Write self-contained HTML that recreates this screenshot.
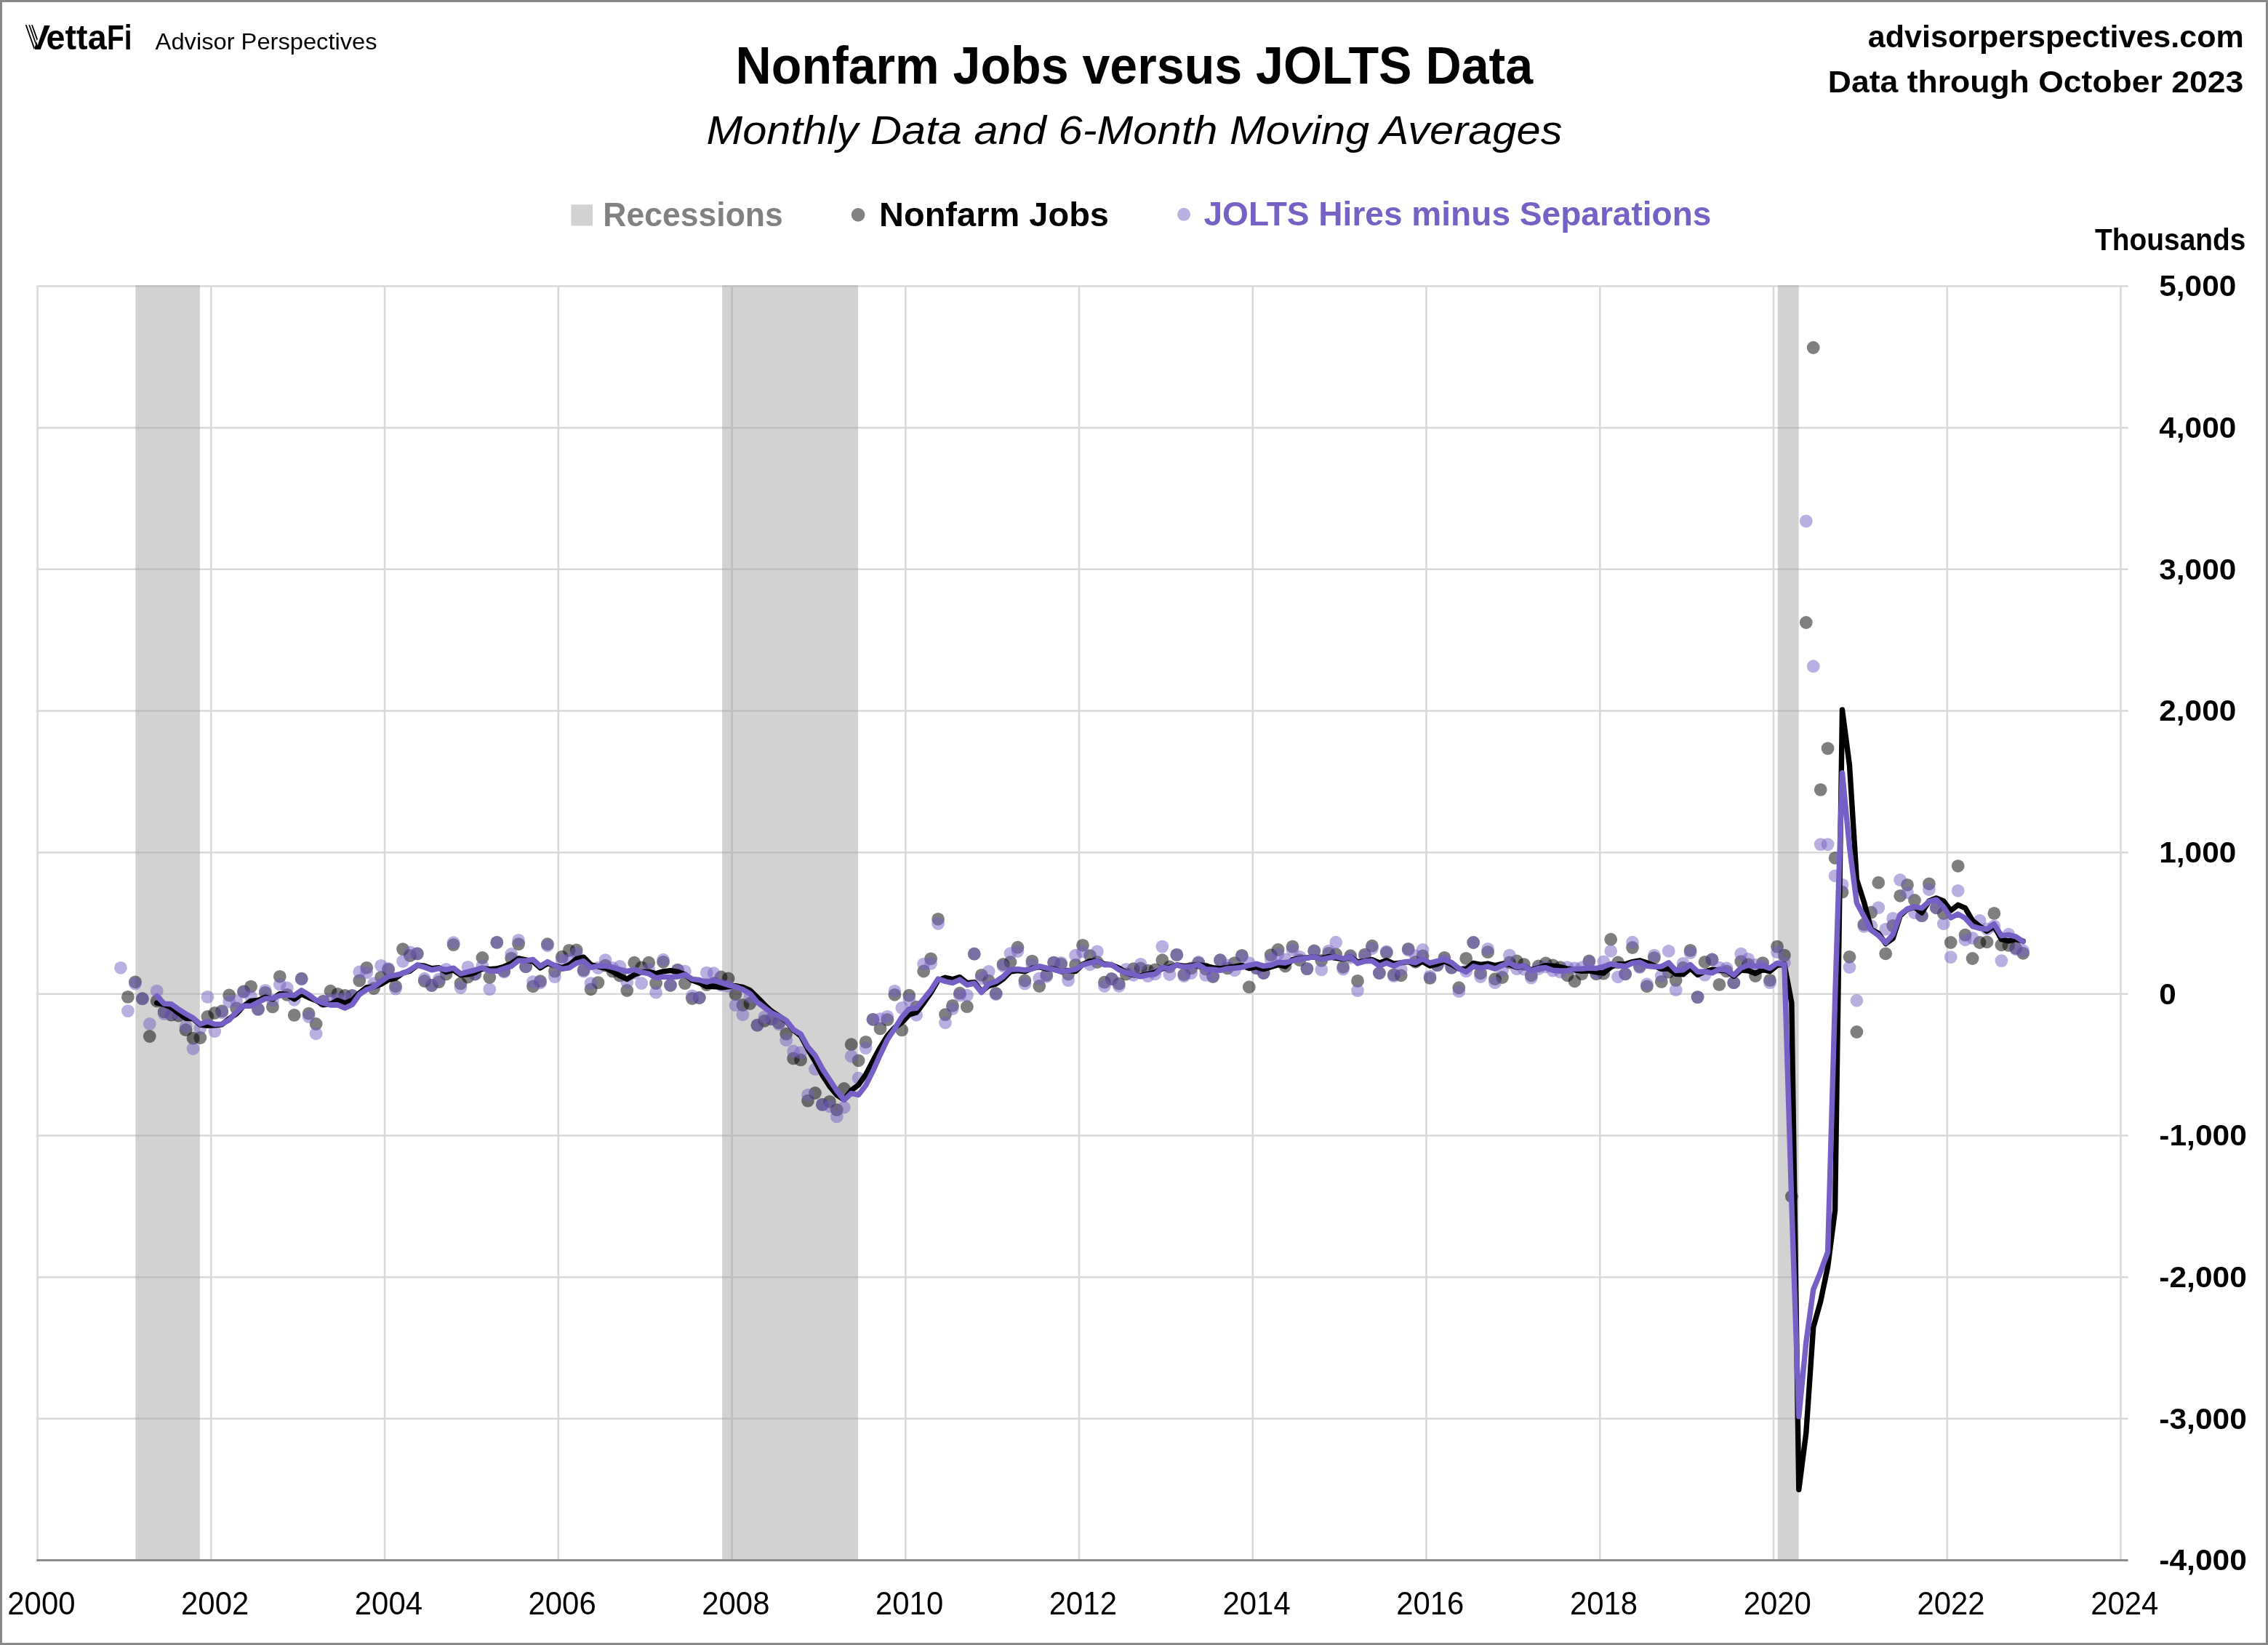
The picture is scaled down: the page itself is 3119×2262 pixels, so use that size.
<!DOCTYPE html>
<html lang="en"><head><meta charset="utf-8"><title>Nonfarm Jobs versus JOLTS Data</title>
<style>html,body{margin:0;padding:0;background:#fff}body{width:3119px;height:2262px;overflow:hidden}svg{display:block}text{font-family:"Liberation Sans", sans-serif}</style></head><body>
<svg width="3119" height="2262" viewBox="0 0 3119 2262" role="img" aria-label="Nonfarm Jobs versus JOLTS Data chart">
<rect x="0" y="0" width="3119" height="2262" fill="#fff"/>
<rect x="1.5" y="1.5" width="3116" height="2259" fill="none" stroke="#878787" stroke-width="3"/>
<g stroke="#d9d9d9" stroke-width="2.6" fill="none">
<line x1="50.3" y1="393.5" x2="2926.5" y2="393.5"/>
<line x1="50.3" y1="588.2" x2="2926.5" y2="588.2"/>
<line x1="50.3" y1="782.8" x2="2926.5" y2="782.8"/>
<line x1="50.3" y1="977.5" x2="2926.5" y2="977.5"/>
<line x1="50.3" y1="1172.2" x2="2926.5" y2="1172.2"/>
<line x1="50.3" y1="1366.8" x2="2926.5" y2="1366.8"/>
<line x1="50.3" y1="1561.5" x2="2926.5" y2="1561.5"/>
<line x1="50.3" y1="1756.2" x2="2926.5" y2="1756.2"/>
<line x1="50.3" y1="1950.8" x2="2926.5" y2="1950.8"/>
<line x1="51.6" y1="393.5" x2="51.6" y2="2145.5"/>
<line x1="290.3" y1="393.5" x2="290.3" y2="2145.5"/>
<line x1="529.1" y1="393.5" x2="529.1" y2="2145.5"/>
<line x1="767.8" y1="393.5" x2="767.8" y2="2145.5"/>
<line x1="1006.6" y1="393.5" x2="1006.6" y2="2145.5"/>
<line x1="1245.3" y1="393.5" x2="1245.3" y2="2145.5"/>
<line x1="1484.0" y1="393.5" x2="1484.0" y2="2145.5"/>
<line x1="1722.8" y1="393.5" x2="1722.8" y2="2145.5"/>
<line x1="1961.5" y1="393.5" x2="1961.5" y2="2145.5"/>
<line x1="2200.3" y1="393.5" x2="2200.3" y2="2145.5"/>
<line x1="2439.0" y1="393.5" x2="2439.0" y2="2145.5"/>
<line x1="2677.8" y1="393.5" x2="2677.8" y2="2145.5"/>
<line x1="2916.5" y1="393.5" x2="2916.5" y2="2145.5"/>
</g>
<g fill="#a6a6a6" fill-opacity="0.5">
<rect x="186.3" y="392.2" width="88.6" height="1752.0"/>
<rect x="993.1" y="392.2" width="186.9" height="1752.0"/>
<rect x="2444.9" y="392.2" width="28.8" height="1752.0"/>
</g>
<line x1="50.3" y1="2145.5" x2="2926.5" y2="2145.5" stroke="#8c8c8c" stroke-width="3"/>
<g fill="#000" fill-opacity="0.5">
<circle cx="175.9" cy="1370.9" r="8.9"/>
<circle cx="185.9" cy="1350.3" r="8.9"/>
<circle cx="195.8" cy="1373.2" r="8.9"/>
<circle cx="205.8" cy="1425.0" r="8.9"/>
<circle cx="215.7" cy="1376.5" r="8.9"/>
<circle cx="225.7" cy="1391.4" r="8.9"/>
<circle cx="235.6" cy="1395.7" r="8.9"/>
<circle cx="245.6" cy="1396.7" r="8.9"/>
<circle cx="255.5" cy="1416.2" r="8.9"/>
<circle cx="265.5" cy="1427.7" r="8.9"/>
<circle cx="275.4" cy="1427.0" r="8.9"/>
<circle cx="285.4" cy="1398.0" r="8.9"/>
<circle cx="295.3" cy="1393.0" r="8.9"/>
<circle cx="305.3" cy="1390.4" r="8.9"/>
<circle cx="315.2" cy="1368.5" r="8.9"/>
<circle cx="325.2" cy="1386.4" r="8.9"/>
<circle cx="335.1" cy="1363.3" r="8.9"/>
<circle cx="345.1" cy="1356.6" r="8.9"/>
<circle cx="355.0" cy="1387.7" r="8.9"/>
<circle cx="364.9" cy="1365.0" r="8.9"/>
<circle cx="374.9" cy="1384.4" r="8.9"/>
<circle cx="384.8" cy="1342.8" r="8.9"/>
<circle cx="394.8" cy="1367.9" r="8.9"/>
<circle cx="404.7" cy="1395.9" r="8.9"/>
<circle cx="414.7" cy="1345.7" r="8.9"/>
<circle cx="424.6" cy="1393.7" r="8.9"/>
<circle cx="434.6" cy="1408.0" r="8.9"/>
<circle cx="444.5" cy="1376.8" r="8.9"/>
<circle cx="454.5" cy="1362.7" r="8.9"/>
<circle cx="464.4" cy="1366.9" r="8.9"/>
<circle cx="474.4" cy="1368.9" r="8.9"/>
<circle cx="484.3" cy="1368.9" r="8.9"/>
<circle cx="494.3" cy="1348.4" r="8.9"/>
<circle cx="504.2" cy="1330.8" r="8.9"/>
<circle cx="514.2" cy="1359.0" r="8.9"/>
<circle cx="524.1" cy="1343.8" r="8.9"/>
<circle cx="534.1" cy="1333.2" r="8.9"/>
<circle cx="544.0" cy="1356.3" r="8.9"/>
<circle cx="554.0" cy="1305.1" r="8.9"/>
<circle cx="563.9" cy="1314.0" r="8.9"/>
<circle cx="573.8" cy="1311.4" r="8.9"/>
<circle cx="583.8" cy="1349.0" r="8.9"/>
<circle cx="593.7" cy="1355.0" r="8.9"/>
<circle cx="603.7" cy="1350.1" r="8.9"/>
<circle cx="613.6" cy="1339.5" r="8.9"/>
<circle cx="623.6" cy="1299.1" r="8.9"/>
<circle cx="633.5" cy="1352.4" r="8.9"/>
<circle cx="643.5" cy="1343.5" r="8.9"/>
<circle cx="653.4" cy="1339.5" r="8.9"/>
<circle cx="663.4" cy="1317.0" r="8.9"/>
<circle cx="673.3" cy="1344.0" r="8.9"/>
<circle cx="683.3" cy="1295.9" r="8.9"/>
<circle cx="693.2" cy="1335.2" r="8.9"/>
<circle cx="703.2" cy="1317.6" r="8.9"/>
<circle cx="713.1" cy="1298.1" r="8.9"/>
<circle cx="723.1" cy="1329.2" r="8.9"/>
<circle cx="733.0" cy="1356.3" r="8.9"/>
<circle cx="743.0" cy="1349.2" r="8.9"/>
<circle cx="752.9" cy="1298.2" r="8.9"/>
<circle cx="762.9" cy="1335.6" r="8.9"/>
<circle cx="772.8" cy="1315.7" r="8.9"/>
<circle cx="782.7" cy="1306.9" r="8.9"/>
<circle cx="792.7" cy="1306.5" r="8.9"/>
<circle cx="802.6" cy="1333.9" r="8.9"/>
<circle cx="812.6" cy="1360.3" r="8.9"/>
<circle cx="822.5" cy="1351.1" r="8.9"/>
<circle cx="832.5" cy="1327.6" r="8.9"/>
<circle cx="842.4" cy="1335.6" r="8.9"/>
<circle cx="852.4" cy="1341.5" r="8.9"/>
<circle cx="862.3" cy="1362.0" r="8.9"/>
<circle cx="872.3" cy="1323.7" r="8.9"/>
<circle cx="882.2" cy="1330.3" r="8.9"/>
<circle cx="892.2" cy="1323.7" r="8.9"/>
<circle cx="902.1" cy="1352.1" r="8.9"/>
<circle cx="912.1" cy="1322.8" r="8.9"/>
<circle cx="922.0" cy="1355.0" r="8.9"/>
<circle cx="932.0" cy="1333.6" r="8.9"/>
<circle cx="941.9" cy="1352.1" r="8.9"/>
<circle cx="951.9" cy="1373.0" r="8.9"/>
<circle cx="961.8" cy="1372.0" r="8.9"/>
<circle cx="971.8" cy="1354.1" r="8.9"/>
<circle cx="981.7" cy="1352.1" r="8.9"/>
<circle cx="991.6" cy="1343.5" r="8.9"/>
<circle cx="1001.6" cy="1345.5" r="8.9"/>
<circle cx="1011.5" cy="1367.3" r="8.9"/>
<circle cx="1021.5" cy="1382.0" r="8.9"/>
<circle cx="1031.4" cy="1380.0" r="8.9"/>
<circle cx="1041.4" cy="1409.7" r="8.9"/>
<circle cx="1051.3" cy="1403.8" r="8.9"/>
<circle cx="1061.3" cy="1401.1" r="8.9"/>
<circle cx="1071.2" cy="1406.4" r="8.9"/>
<circle cx="1081.2" cy="1421.6" r="8.9"/>
<circle cx="1091.1" cy="1455.4" r="8.9"/>
<circle cx="1101.1" cy="1457.4" r="8.9"/>
<circle cx="1111.0" cy="1513.6" r="8.9"/>
<circle cx="1121.0" cy="1503.0" r="8.9"/>
<circle cx="1130.9" cy="1518.9" r="8.9"/>
<circle cx="1140.9" cy="1514.9" r="8.9"/>
<circle cx="1150.8" cy="1526.1" r="8.9"/>
<circle cx="1160.8" cy="1497.0" r="8.9"/>
<circle cx="1170.7" cy="1436.2" r="8.9"/>
<circle cx="1180.6" cy="1458.3" r="8.9"/>
<circle cx="1190.6" cy="1432.9" r="8.9"/>
<circle cx="1200.5" cy="1401.8" r="8.9"/>
<circle cx="1210.5" cy="1414.4" r="8.9"/>
<circle cx="1220.4" cy="1402.2" r="8.9"/>
<circle cx="1230.4" cy="1367.8" r="8.9"/>
<circle cx="1240.3" cy="1416.4" r="8.9"/>
<circle cx="1250.3" cy="1368.7" r="8.9"/>
<circle cx="1260.2" cy="1384.6" r="8.9"/>
<circle cx="1270.2" cy="1335.5" r="8.9"/>
<circle cx="1280.1" cy="1318.3" r="8.9"/>
<circle cx="1290.1" cy="1263.8" r="8.9"/>
<circle cx="1300.0" cy="1395.1" r="8.9"/>
<circle cx="1310.0" cy="1382.9" r="8.9"/>
<circle cx="1319.9" cy="1365.7" r="8.9"/>
<circle cx="1329.9" cy="1384.2" r="8.9"/>
<circle cx="1339.8" cy="1311.7" r="8.9"/>
<circle cx="1349.8" cy="1340.8" r="8.9"/>
<circle cx="1359.7" cy="1348.7" r="8.9"/>
<circle cx="1369.7" cy="1366.0" r="8.9"/>
<circle cx="1379.6" cy="1326.0" r="8.9"/>
<circle cx="1389.5" cy="1323.0" r="8.9"/>
<circle cx="1399.5" cy="1302.7" r="8.9"/>
<circle cx="1409.4" cy="1348.5" r="8.9"/>
<circle cx="1419.4" cy="1321.6" r="8.9"/>
<circle cx="1429.3" cy="1356.0" r="8.9"/>
<circle cx="1439.3" cy="1340.8" r="8.9"/>
<circle cx="1449.2" cy="1323.6" r="8.9"/>
<circle cx="1459.2" cy="1326.0" r="8.9"/>
<circle cx="1469.1" cy="1339.5" r="8.9"/>
<circle cx="1479.1" cy="1326.9" r="8.9"/>
<circle cx="1489.0" cy="1299.8" r="8.9"/>
<circle cx="1499.0" cy="1314.1" r="8.9"/>
<circle cx="1508.9" cy="1323.0" r="8.9"/>
<circle cx="1518.9" cy="1350.7" r="8.9"/>
<circle cx="1528.8" cy="1346.1" r="8.9"/>
<circle cx="1538.8" cy="1352.7" r="8.9"/>
<circle cx="1548.7" cy="1339.5" r="8.9"/>
<circle cx="1558.7" cy="1332.2" r="8.9"/>
<circle cx="1568.6" cy="1331.4" r="8.9"/>
<circle cx="1578.6" cy="1334.7" r="8.9"/>
<circle cx="1588.5" cy="1333.4" r="8.9"/>
<circle cx="1598.4" cy="1320.2" r="8.9"/>
<circle cx="1608.4" cy="1329.4" r="8.9"/>
<circle cx="1618.3" cy="1312.9" r="8.9"/>
<circle cx="1628.3" cy="1340.0" r="8.9"/>
<circle cx="1638.2" cy="1331.4" r="8.9"/>
<circle cx="1648.2" cy="1324.1" r="8.9"/>
<circle cx="1658.1" cy="1332.5" r="8.9"/>
<circle cx="1668.1" cy="1343.0" r="8.9"/>
<circle cx="1678.0" cy="1320.2" r="8.9"/>
<circle cx="1688.0" cy="1331.4" r="8.9"/>
<circle cx="1697.9" cy="1324.1" r="8.9"/>
<circle cx="1707.9" cy="1313.9" r="8.9"/>
<circle cx="1717.8" cy="1357.2" r="8.9"/>
<circle cx="1727.8" cy="1331.1" r="8.9"/>
<circle cx="1737.7" cy="1338.0" r="8.9"/>
<circle cx="1747.7" cy="1313.1" r="8.9"/>
<circle cx="1757.6" cy="1306.0" r="8.9"/>
<circle cx="1767.6" cy="1328.5" r="8.9"/>
<circle cx="1777.5" cy="1301.6" r="8.9"/>
<circle cx="1787.5" cy="1320.2" r="8.9"/>
<circle cx="1797.4" cy="1332.1" r="8.9"/>
<circle cx="1807.3" cy="1307.3" r="8.9"/>
<circle cx="1817.3" cy="1320.8" r="8.9"/>
<circle cx="1827.2" cy="1310.9" r="8.9"/>
<circle cx="1837.2" cy="1312.2" r="8.9"/>
<circle cx="1847.1" cy="1329.8" r="8.9"/>
<circle cx="1857.1" cy="1314.2" r="8.9"/>
<circle cx="1867.0" cy="1348.9" r="8.9"/>
<circle cx="1877.0" cy="1312.6" r="8.9"/>
<circle cx="1886.9" cy="1300.7" r="8.9"/>
<circle cx="1896.9" cy="1338.0" r="8.9"/>
<circle cx="1906.8" cy="1310.0" r="8.9"/>
<circle cx="1916.8" cy="1340.4" r="8.9"/>
<circle cx="1926.7" cy="1341.3" r="8.9"/>
<circle cx="1936.7" cy="1304.9" r="8.9"/>
<circle cx="1946.6" cy="1322.8" r="8.9"/>
<circle cx="1956.6" cy="1314.5" r="8.9"/>
<circle cx="1966.5" cy="1344.9" r="8.9"/>
<circle cx="1976.5" cy="1327.2" r="8.9"/>
<circle cx="1986.4" cy="1316.8" r="8.9"/>
<circle cx="1996.3" cy="1330.7" r="8.9"/>
<circle cx="2006.3" cy="1358.2" r="8.9"/>
<circle cx="2016.2" cy="1317.9" r="8.9"/>
<circle cx="2026.2" cy="1296.0" r="8.9"/>
<circle cx="2036.1" cy="1338.3" r="8.9"/>
<circle cx="2046.1" cy="1309.2" r="8.9"/>
<circle cx="2056.0" cy="1346.2" r="8.9"/>
<circle cx="2066.0" cy="1344.0" r="8.9"/>
<circle cx="2075.9" cy="1323.5" r="8.9"/>
<circle cx="2085.9" cy="1321.5" r="8.9"/>
<circle cx="2095.8" cy="1326.1" r="8.9"/>
<circle cx="2105.8" cy="1341.3" r="8.9"/>
<circle cx="2115.7" cy="1328.5" r="8.9"/>
<circle cx="2125.7" cy="1324.5" r="8.9"/>
<circle cx="2135.6" cy="1327.4" r="8.9"/>
<circle cx="2145.6" cy="1330.1" r="8.9"/>
<circle cx="2155.5" cy="1341.3" r="8.9"/>
<circle cx="2165.5" cy="1349.3" r="8.9"/>
<circle cx="2175.4" cy="1339.1" r="8.9"/>
<circle cx="2185.4" cy="1321.5" r="8.9"/>
<circle cx="2195.3" cy="1339.3" r="8.9"/>
<circle cx="2205.2" cy="1338.7" r="8.9"/>
<circle cx="2215.2" cy="1291.7" r="8.9"/>
<circle cx="2225.1" cy="1323.5" r="8.9"/>
<circle cx="2235.1" cy="1339.3" r="8.9"/>
<circle cx="2245.0" cy="1303.0" r="8.9"/>
<circle cx="2255.0" cy="1328.8" r="8.9"/>
<circle cx="2264.9" cy="1356.3" r="8.9"/>
<circle cx="2274.9" cy="1317.1" r="8.9"/>
<circle cx="2284.8" cy="1349.9" r="8.9"/>
<circle cx="2294.8" cy="1336.7" r="8.9"/>
<circle cx="2304.7" cy="1347.9" r="8.9"/>
<circle cx="2314.7" cy="1330.7" r="8.9"/>
<circle cx="2324.6" cy="1306.9" r="8.9"/>
<circle cx="2334.6" cy="1371.1" r="8.9"/>
<circle cx="2344.5" cy="1322.8" r="8.9"/>
<circle cx="2354.5" cy="1319.5" r="8.9"/>
<circle cx="2364.4" cy="1353.9" r="8.9"/>
<circle cx="2374.4" cy="1335.4" r="8.9"/>
<circle cx="2384.3" cy="1351.2" r="8.9"/>
<circle cx="2394.3" cy="1322.1" r="8.9"/>
<circle cx="2404.2" cy="1326.1" r="8.9"/>
<circle cx="2414.1" cy="1342.0" r="8.9"/>
<circle cx="2424.1" cy="1324.1" r="8.9"/>
<circle cx="2434.0" cy="1347.9" r="8.9"/>
<circle cx="2444.0" cy="1301.6" r="8.9"/>
<circle cx="2453.9" cy="1313.6" r="8.9"/>
<circle cx="2463.9" cy="1645.2" r="8.9"/>
<circle cx="2483.8" cy="856.0" r="8.9"/>
<circle cx="2493.7" cy="478.0" r="8.9"/>
<circle cx="2503.7" cy="1085.9" r="8.9"/>
<circle cx="2513.6" cy="1029.1" r="8.9"/>
<circle cx="2523.6" cy="1179.8" r="8.9"/>
<circle cx="2533.5" cy="1226.7" r="8.9"/>
<circle cx="2543.5" cy="1315.8" r="8.9"/>
<circle cx="2553.4" cy="1419.0" r="8.9"/>
<circle cx="2563.4" cy="1271.2" r="8.9"/>
<circle cx="2573.3" cy="1254.7" r="8.9"/>
<circle cx="2583.3" cy="1213.7" r="8.9"/>
<circle cx="2593.2" cy="1311.3" r="8.9"/>
<circle cx="2603.2" cy="1272.9" r="8.9"/>
<circle cx="2613.1" cy="1231.8" r="8.9"/>
<circle cx="2623.0" cy="1216.8" r="8.9"/>
<circle cx="2633.0" cy="1238.0" r="8.9"/>
<circle cx="2642.9" cy="1259.2" r="8.9"/>
<circle cx="2652.9" cy="1215.3" r="8.9"/>
<circle cx="2662.8" cy="1248.3" r="8.9"/>
<circle cx="2672.8" cy="1256.0" r="8.9"/>
<circle cx="2682.7" cy="1296.0" r="8.9"/>
<circle cx="2692.7" cy="1190.8" r="8.9"/>
<circle cx="2702.6" cy="1285.6" r="8.9"/>
<circle cx="2712.6" cy="1318.0" r="8.9"/>
<circle cx="2722.5" cy="1296.0" r="8.9"/>
<circle cx="2732.5" cy="1295.3" r="8.9"/>
<circle cx="2742.4" cy="1255.9" r="8.9"/>
<circle cx="2752.4" cy="1299.3" r="8.9"/>
<circle cx="2762.3" cy="1299.9" r="8.9"/>
<circle cx="2772.3" cy="1303.9" r="8.9"/>
<circle cx="2782.2" cy="1310.8" r="8.9"/>
</g>
<g fill="#7560c4" fill-opacity="0.5">
<circle cx="166.0" cy="1330.8" r="8.9"/>
<circle cx="175.9" cy="1390.1" r="8.9"/>
<circle cx="185.9" cy="1352.7" r="8.9"/>
<circle cx="195.8" cy="1373.4" r="8.9"/>
<circle cx="205.8" cy="1408.0" r="8.9"/>
<circle cx="215.7" cy="1362.6" r="8.9"/>
<circle cx="225.7" cy="1394.1" r="8.9"/>
<circle cx="235.6" cy="1394.3" r="8.9"/>
<circle cx="245.6" cy="1394.3" r="8.9"/>
<circle cx="255.5" cy="1411.3" r="8.9"/>
<circle cx="265.5" cy="1442.0" r="8.9"/>
<circle cx="275.4" cy="1413.9" r="8.9"/>
<circle cx="285.4" cy="1370.9" r="8.9"/>
<circle cx="295.3" cy="1418.1" r="8.9"/>
<circle cx="305.3" cy="1392.4" r="8.9"/>
<circle cx="315.2" cy="1377.4" r="8.9"/>
<circle cx="325.2" cy="1376.5" r="8.9"/>
<circle cx="335.1" cy="1364.2" r="8.9"/>
<circle cx="345.1" cy="1370.5" r="8.9"/>
<circle cx="355.0" cy="1388.1" r="8.9"/>
<circle cx="364.9" cy="1361.9" r="8.9"/>
<circle cx="374.9" cy="1375.8" r="8.9"/>
<circle cx="384.8" cy="1353.6" r="8.9"/>
<circle cx="394.8" cy="1358.4" r="8.9"/>
<circle cx="404.7" cy="1374.8" r="8.9"/>
<circle cx="414.7" cy="1346.5" r="8.9"/>
<circle cx="424.6" cy="1398.0" r="8.9"/>
<circle cx="434.6" cy="1421.2" r="8.9"/>
<circle cx="444.5" cy="1376.8" r="8.9"/>
<circle cx="454.5" cy="1374.8" r="8.9"/>
<circle cx="464.4" cy="1373.5" r="8.9"/>
<circle cx="474.4" cy="1372.8" r="8.9"/>
<circle cx="484.3" cy="1369.6" r="8.9"/>
<circle cx="494.3" cy="1336.5" r="8.9"/>
<circle cx="504.2" cy="1337.4" r="8.9"/>
<circle cx="514.2" cy="1352.4" r="8.9"/>
<circle cx="524.1" cy="1327.9" r="8.9"/>
<circle cx="534.1" cy="1331.9" r="8.9"/>
<circle cx="544.0" cy="1359.6" r="8.9"/>
<circle cx="554.0" cy="1321.9" r="8.9"/>
<circle cx="563.9" cy="1309.4" r="8.9"/>
<circle cx="573.8" cy="1311.4" r="8.9"/>
<circle cx="583.8" cy="1345.7" r="8.9"/>
<circle cx="593.7" cy="1355.0" r="8.9"/>
<circle cx="603.7" cy="1346.4" r="8.9"/>
<circle cx="613.6" cy="1332.9" r="8.9"/>
<circle cx="623.6" cy="1296.1" r="8.9"/>
<circle cx="633.5" cy="1358.0" r="8.9"/>
<circle cx="643.5" cy="1329.9" r="8.9"/>
<circle cx="653.4" cy="1339.5" r="8.9"/>
<circle cx="663.4" cy="1328.2" r="8.9"/>
<circle cx="673.3" cy="1360.3" r="8.9"/>
<circle cx="683.3" cy="1295.9" r="8.9"/>
<circle cx="693.2" cy="1336.5" r="8.9"/>
<circle cx="703.2" cy="1312.0" r="8.9"/>
<circle cx="713.1" cy="1292.8" r="8.9"/>
<circle cx="723.1" cy="1329.2" r="8.9"/>
<circle cx="733.0" cy="1350.1" r="8.9"/>
<circle cx="743.0" cy="1351.5" r="8.9"/>
<circle cx="752.9" cy="1300.3" r="8.9"/>
<circle cx="762.9" cy="1343.1" r="8.9"/>
<circle cx="772.8" cy="1320.4" r="8.9"/>
<circle cx="782.7" cy="1319.7" r="8.9"/>
<circle cx="792.7" cy="1310.8" r="8.9"/>
<circle cx="802.6" cy="1335.6" r="8.9"/>
<circle cx="812.6" cy="1352.1" r="8.9"/>
<circle cx="822.5" cy="1331.0" r="8.9"/>
<circle cx="832.5" cy="1320.1" r="8.9"/>
<circle cx="842.4" cy="1331.0" r="8.9"/>
<circle cx="852.4" cy="1329.0" r="8.9"/>
<circle cx="862.3" cy="1350.8" r="8.9"/>
<circle cx="872.3" cy="1338.2" r="8.9"/>
<circle cx="882.2" cy="1352.1" r="8.9"/>
<circle cx="892.2" cy="1332.9" r="8.9"/>
<circle cx="902.1" cy="1364.7" r="8.9"/>
<circle cx="912.1" cy="1319.7" r="8.9"/>
<circle cx="922.0" cy="1354.1" r="8.9"/>
<circle cx="932.0" cy="1334.3" r="8.9"/>
<circle cx="941.9" cy="1335.6" r="8.9"/>
<circle cx="951.9" cy="1369.3" r="8.9"/>
<circle cx="961.8" cy="1372.0" r="8.9"/>
<circle cx="971.8" cy="1337.6" r="8.9"/>
<circle cx="981.7" cy="1338.2" r="8.9"/>
<circle cx="991.6" cy="1354.8" r="8.9"/>
<circle cx="1001.6" cy="1356.1" r="8.9"/>
<circle cx="1011.5" cy="1382.2" r="8.9"/>
<circle cx="1021.5" cy="1395.2" r="8.9"/>
<circle cx="1031.4" cy="1370.8" r="8.9"/>
<circle cx="1041.4" cy="1409.7" r="8.9"/>
<circle cx="1051.3" cy="1398.5" r="8.9"/>
<circle cx="1061.3" cy="1401.1" r="8.9"/>
<circle cx="1071.2" cy="1408.4" r="8.9"/>
<circle cx="1081.2" cy="1430.2" r="8.9"/>
<circle cx="1091.1" cy="1445.5" r="8.9"/>
<circle cx="1101.1" cy="1447.4" r="8.9"/>
<circle cx="1111.0" cy="1505.6" r="8.9"/>
<circle cx="1121.0" cy="1470.2" r="8.9"/>
<circle cx="1130.9" cy="1518.9" r="8.9"/>
<circle cx="1140.9" cy="1521.5" r="8.9"/>
<circle cx="1150.8" cy="1535.4" r="8.9"/>
<circle cx="1160.8" cy="1522.8" r="8.9"/>
<circle cx="1170.7" cy="1452.5" r="8.9"/>
<circle cx="1180.6" cy="1482.5" r="8.9"/>
<circle cx="1190.6" cy="1441.1" r="8.9"/>
<circle cx="1200.5" cy="1401.8" r="8.9"/>
<circle cx="1210.5" cy="1401.1" r="8.9"/>
<circle cx="1220.4" cy="1397.8" r="8.9"/>
<circle cx="1230.4" cy="1362.8" r="8.9"/>
<circle cx="1240.3" cy="1385.9" r="8.9"/>
<circle cx="1250.3" cy="1374.4" r="8.9"/>
<circle cx="1260.2" cy="1395.8" r="8.9"/>
<circle cx="1270.2" cy="1325.6" r="8.9"/>
<circle cx="1280.1" cy="1324.9" r="8.9"/>
<circle cx="1290.1" cy="1270.0" r="8.9"/>
<circle cx="1300.0" cy="1406.3" r="8.9"/>
<circle cx="1310.0" cy="1387.1" r="8.9"/>
<circle cx="1319.9" cy="1368.6" r="8.9"/>
<circle cx="1329.9" cy="1368.6" r="8.9"/>
<circle cx="1339.8" cy="1311.7" r="8.9"/>
<circle cx="1349.8" cy="1345.5" r="8.9"/>
<circle cx="1359.7" cy="1335.8" r="8.9"/>
<circle cx="1369.7" cy="1367.3" r="8.9"/>
<circle cx="1379.6" cy="1328.3" r="8.9"/>
<circle cx="1389.5" cy="1311.1" r="8.9"/>
<circle cx="1399.5" cy="1308.0" r="8.9"/>
<circle cx="1409.4" cy="1352.7" r="8.9"/>
<circle cx="1419.4" cy="1326.3" r="8.9"/>
<circle cx="1429.3" cy="1345.5" r="8.9"/>
<circle cx="1439.3" cy="1342.8" r="8.9"/>
<circle cx="1449.2" cy="1323.6" r="8.9"/>
<circle cx="1459.2" cy="1323.9" r="8.9"/>
<circle cx="1469.1" cy="1348.1" r="8.9"/>
<circle cx="1479.1" cy="1313.7" r="8.9"/>
<circle cx="1489.0" cy="1308.4" r="8.9"/>
<circle cx="1499.0" cy="1326.3" r="8.9"/>
<circle cx="1508.9" cy="1308.4" r="8.9"/>
<circle cx="1518.9" cy="1356.0" r="8.9"/>
<circle cx="1528.8" cy="1346.1" r="8.9"/>
<circle cx="1538.8" cy="1356.0" r="8.9"/>
<circle cx="1548.7" cy="1332.9" r="8.9"/>
<circle cx="1558.7" cy="1340.8" r="8.9"/>
<circle cx="1568.6" cy="1325.9" r="8.9"/>
<circle cx="1578.6" cy="1342.2" r="8.9"/>
<circle cx="1588.5" cy="1339.3" r="8.9"/>
<circle cx="1598.4" cy="1301.6" r="8.9"/>
<circle cx="1608.4" cy="1340.0" r="8.9"/>
<circle cx="1618.3" cy="1312.9" r="8.9"/>
<circle cx="1628.3" cy="1342.2" r="8.9"/>
<circle cx="1638.2" cy="1338.0" r="8.9"/>
<circle cx="1648.2" cy="1322.8" r="8.9"/>
<circle cx="1658.1" cy="1340.9" r="8.9"/>
<circle cx="1668.1" cy="1342.0" r="8.9"/>
<circle cx="1678.0" cy="1320.2" r="8.9"/>
<circle cx="1688.0" cy="1327.4" r="8.9"/>
<circle cx="1697.9" cy="1334.3" r="8.9"/>
<circle cx="1707.9" cy="1315.5" r="8.9"/>
<circle cx="1717.8" cy="1324.1" r="8.9"/>
<circle cx="1727.8" cy="1331.1" r="8.9"/>
<circle cx="1737.7" cy="1338.0" r="8.9"/>
<circle cx="1747.7" cy="1318.8" r="8.9"/>
<circle cx="1757.6" cy="1312.2" r="8.9"/>
<circle cx="1767.6" cy="1319.5" r="8.9"/>
<circle cx="1777.5" cy="1306.3" r="8.9"/>
<circle cx="1787.5" cy="1315.8" r="8.9"/>
<circle cx="1797.4" cy="1332.1" r="8.9"/>
<circle cx="1807.3" cy="1308.3" r="8.9"/>
<circle cx="1817.3" cy="1333.4" r="8.9"/>
<circle cx="1827.2" cy="1307.6" r="8.9"/>
<circle cx="1837.2" cy="1295.7" r="8.9"/>
<circle cx="1847.1" cy="1332.7" r="8.9"/>
<circle cx="1857.1" cy="1316.8" r="8.9"/>
<circle cx="1867.0" cy="1362.1" r="8.9"/>
<circle cx="1877.0" cy="1315.5" r="8.9"/>
<circle cx="1886.9" cy="1304.3" r="8.9"/>
<circle cx="1896.9" cy="1338.0" r="8.9"/>
<circle cx="1906.8" cy="1308.3" r="8.9"/>
<circle cx="1916.8" cy="1342.2" r="8.9"/>
<circle cx="1926.7" cy="1333.4" r="8.9"/>
<circle cx="1936.7" cy="1306.5" r="8.9"/>
<circle cx="1946.6" cy="1314.5" r="8.9"/>
<circle cx="1956.6" cy="1306.0" r="8.9"/>
<circle cx="1966.5" cy="1342.6" r="8.9"/>
<circle cx="1976.5" cy="1327.2" r="8.9"/>
<circle cx="1986.4" cy="1320.3" r="8.9"/>
<circle cx="1996.3" cy="1330.7" r="8.9"/>
<circle cx="2006.3" cy="1363.2" r="8.9"/>
<circle cx="2016.2" cy="1335.4" r="8.9"/>
<circle cx="2026.2" cy="1296.0" r="8.9"/>
<circle cx="2036.1" cy="1343.0" r="8.9"/>
<circle cx="2046.1" cy="1304.9" r="8.9"/>
<circle cx="2056.0" cy="1351.2" r="8.9"/>
<circle cx="2066.0" cy="1334.1" r="8.9"/>
<circle cx="2075.9" cy="1313.6" r="8.9"/>
<circle cx="2085.9" cy="1332.1" r="8.9"/>
<circle cx="2095.8" cy="1332.7" r="8.9"/>
<circle cx="2105.8" cy="1344.6" r="8.9"/>
<circle cx="2115.7" cy="1332.1" r="8.9"/>
<circle cx="2125.7" cy="1329.4" r="8.9"/>
<circle cx="2135.6" cy="1334.7" r="8.9"/>
<circle cx="2145.6" cy="1336.4" r="8.9"/>
<circle cx="2155.5" cy="1330.1" r="8.9"/>
<circle cx="2165.5" cy="1331.4" r="8.9"/>
<circle cx="2175.4" cy="1330.4" r="8.9"/>
<circle cx="2185.4" cy="1322.8" r="8.9"/>
<circle cx="2195.3" cy="1338.0" r="8.9"/>
<circle cx="2205.2" cy="1322.4" r="8.9"/>
<circle cx="2215.2" cy="1307.8" r="8.9"/>
<circle cx="2225.1" cy="1343.3" r="8.9"/>
<circle cx="2235.1" cy="1339.3" r="8.9"/>
<circle cx="2245.0" cy="1295.7" r="8.9"/>
<circle cx="2255.0" cy="1330.1" r="8.9"/>
<circle cx="2264.9" cy="1353.2" r="8.9"/>
<circle cx="2274.9" cy="1313.6" r="8.9"/>
<circle cx="2284.8" cy="1342.0" r="8.9"/>
<circle cx="2294.8" cy="1307.8" r="8.9"/>
<circle cx="2304.7" cy="1361.2" r="8.9"/>
<circle cx="2314.7" cy="1324.8" r="8.9"/>
<circle cx="2324.6" cy="1310.2" r="8.9"/>
<circle cx="2334.6" cy="1371.1" r="8.9"/>
<circle cx="2344.5" cy="1340.7" r="8.9"/>
<circle cx="2354.5" cy="1319.5" r="8.9"/>
<circle cx="2364.4" cy="1330.7" r="8.9"/>
<circle cx="2374.4" cy="1331.4" r="8.9"/>
<circle cx="2384.3" cy="1351.2" r="8.9"/>
<circle cx="2394.3" cy="1311.6" r="8.9"/>
<circle cx="2404.2" cy="1318.8" r="8.9"/>
<circle cx="2414.1" cy="1326.8" r="8.9"/>
<circle cx="2424.1" cy="1328.8" r="8.9"/>
<circle cx="2434.0" cy="1351.2" r="8.9"/>
<circle cx="2444.0" cy="1309.2" r="8.9"/>
<circle cx="2453.9" cy="1323.7" r="8.9"/>
<circle cx="2483.8" cy="716.6" r="8.9"/>
<circle cx="2493.7" cy="916.2" r="8.9"/>
<circle cx="2503.7" cy="1161.1" r="8.9"/>
<circle cx="2513.6" cy="1161.1" r="8.9"/>
<circle cx="2523.6" cy="1204.3" r="8.9"/>
<circle cx="2533.5" cy="1216.6" r="8.9"/>
<circle cx="2543.5" cy="1330.0" r="8.9"/>
<circle cx="2553.4" cy="1375.8" r="8.9"/>
<circle cx="2563.4" cy="1273.9" r="8.9"/>
<circle cx="2573.3" cy="1273.2" r="8.9"/>
<circle cx="2583.3" cy="1248.1" r="8.9"/>
<circle cx="2593.2" cy="1277.8" r="8.9"/>
<circle cx="2603.2" cy="1262.9" r="8.9"/>
<circle cx="2613.1" cy="1210.0" r="8.9"/>
<circle cx="2623.0" cy="1227.4" r="8.9"/>
<circle cx="2633.0" cy="1255.2" r="8.9"/>
<circle cx="2642.9" cy="1259.2" r="8.9"/>
<circle cx="2652.9" cy="1223.2" r="8.9"/>
<circle cx="2662.8" cy="1248.3" r="8.9"/>
<circle cx="2672.8" cy="1270.2" r="8.9"/>
<circle cx="2682.7" cy="1316.1" r="8.9"/>
<circle cx="2692.7" cy="1224.8" r="8.9"/>
<circle cx="2702.6" cy="1292.3" r="8.9"/>
<circle cx="2712.6" cy="1290.0" r="8.9"/>
<circle cx="2722.5" cy="1265.8" r="8.9"/>
<circle cx="2732.5" cy="1277.4" r="8.9"/>
<circle cx="2742.4" cy="1273.5" r="8.9"/>
<circle cx="2752.4" cy="1321.1" r="8.9"/>
<circle cx="2762.3" cy="1284.7" r="8.9"/>
<circle cx="2772.3" cy="1305.2" r="8.9"/>
<circle cx="2782.2" cy="1307.2" r="8.9"/>
</g>
<polyline points="215.7,1379.2 225.7,1381.2 235.6,1385.3 245.6,1393.1 255.5,1400.2 265.5,1400.7 275.4,1409.1 285.4,1410.2 295.3,1409.8 305.3,1408.7 315.2,1400.8 325.2,1393.9 335.1,1383.3 345.1,1376.4 355.0,1375.5 364.9,1371.3 374.9,1373.9 384.8,1366.6 394.8,1367.4 404.7,1373.9 414.7,1366.9 424.6,1371.7 434.6,1375.7 444.5,1381.3 454.5,1380.5 464.4,1375.6 474.4,1379.5 484.3,1375.4 494.3,1365.4 504.2,1357.8 514.2,1357.1 524.1,1353.3 534.1,1347.3 544.0,1345.2 554.0,1338.0 563.9,1335.2 573.8,1327.3 583.8,1328.2 593.7,1331.8 603.7,1330.8 613.6,1336.5 623.6,1334.0 633.5,1340.8 643.5,1339.9 653.4,1337.3 663.4,1331.8 673.3,1332.6 683.3,1332.0 693.2,1329.2 703.2,1324.9 713.1,1318.0 723.1,1320.0 733.0,1322.0 743.0,1330.9 752.9,1324.8 762.9,1327.8 772.8,1330.7 782.7,1327.0 792.7,1318.7 802.6,1316.1 812.6,1326.5 822.5,1329.0 832.5,1331.0 842.4,1335.8 852.4,1341.7 862.3,1346.4 872.3,1340.3 882.2,1336.8 892.2,1336.1 902.1,1338.9 912.1,1335.8 922.0,1334.6 932.0,1336.3 941.9,1339.9 951.9,1348.1 961.8,1351.4 971.8,1356.6 981.7,1356.1 991.6,1357.8 1001.6,1356.7 1011.5,1355.7 1021.5,1357.4 1031.4,1361.7 1041.4,1371.3 1051.3,1381.4 1061.3,1390.6 1071.2,1397.2 1081.2,1403.8 1091.1,1416.4 1101.1,1424.3 1111.0,1442.6 1121.0,1459.6 1130.9,1478.3 1140.9,1493.8 1150.8,1505.6 1160.8,1512.2 1170.7,1499.3 1180.6,1491.9 1190.6,1477.6 1200.5,1458.7 1210.5,1440.1 1220.4,1424.3 1230.4,1412.9 1240.3,1405.9 1250.3,1395.2 1260.2,1392.3 1270.2,1379.2 1280.1,1365.2 1290.1,1347.9 1300.0,1344.3 1310.0,1346.7 1319.9,1343.6 1329.9,1351.7 1339.8,1350.6 1349.8,1363.4 1359.7,1355.7 1369.7,1352.9 1379.6,1346.2 1389.5,1336.0 1399.5,1334.5 1409.4,1335.8 1419.4,1331.3 1429.3,1329.7 1439.3,1332.1 1449.2,1332.2 1459.2,1336.1 1469.1,1334.6 1479.1,1335.5 1489.0,1326.1 1499.0,1321.7 1508.9,1321.6 1518.9,1325.7 1528.8,1326.8 1538.8,1331.1 1548.7,1337.7 1558.7,1340.7 1568.6,1342.1 1578.6,1339.4 1588.5,1337.3 1598.4,1331.9 1608.4,1330.2 1618.3,1327.0 1628.3,1328.4 1638.2,1327.9 1648.2,1326.3 1658.1,1328.4 1668.1,1330.6 1678.0,1331.9 1688.0,1330.4 1697.9,1329.2 1707.9,1327.5 1717.8,1331.6 1727.8,1329.7 1737.7,1332.6 1747.7,1329.6 1757.6,1326.6 1767.6,1329.0 1777.5,1319.7 1787.5,1317.9 1797.4,1316.9 1807.3,1315.9 1817.3,1318.4 1827.2,1315.5 1837.2,1317.3 1847.1,1318.9 1857.1,1315.9 1867.0,1322.8 1877.0,1321.4 1886.9,1319.7 1896.9,1324.0 1906.8,1320.7 1916.8,1325.1 1926.7,1323.8 1936.7,1322.6 1946.6,1326.2 1956.6,1322.3 1966.5,1328.1 1976.5,1325.9 1986.4,1321.9 1996.3,1326.1 2006.3,1332.1 2016.2,1332.6 2026.2,1324.5 2036.1,1326.3 2046.1,1325.1 2056.0,1327.6 2066.0,1325.3 2075.9,1326.2 2085.9,1330.4 2095.8,1328.4 2105.8,1333.8 2115.7,1330.8 2125.7,1327.6 2135.6,1328.2 2145.6,1329.7 2155.5,1332.2 2165.5,1333.5 2175.4,1335.3 2185.4,1334.8 2195.3,1336.8 2205.2,1338.2 2215.2,1329.9 2225.1,1325.6 2235.1,1325.7 2245.0,1322.6 2255.0,1320.8 2264.9,1323.8 2274.9,1328.0 2284.8,1332.4 2294.8,1331.9 2304.7,1339.4 2314.7,1339.8 2324.6,1331.6 2334.6,1340.6 2344.5,1336.0 2354.5,1333.2 2364.4,1334.1 2374.4,1334.9 2384.3,1342.3 2394.3,1334.1 2404.2,1334.7 2414.1,1338.5 2424.1,1333.5 2434.0,1335.6 2444.0,1327.3 2453.9,1325.9 2463.9,1379.1 2473.8,2048.3 2483.8,1970.3 2493.7,1825.3 2503.7,1789.4 2513.6,1742.0 2523.6,1664.4 2533.5,975.9 2543.5,1052.5 2553.4,1209.4 2563.4,1240.3 2573.3,1277.9 2583.3,1283.5 2593.2,1297.6 2603.2,1290.5 2613.1,1259.3 2623.0,1250.2 2633.0,1247.4 2642.9,1255.0 2652.9,1239.0 2662.8,1234.9 2672.8,1238.9 2682.7,1252.1 2692.7,1244.3 2702.6,1248.7 2712.6,1265.8 2722.5,1273.7 2732.5,1280.3 2742.4,1273.6 2752.4,1291.7 2762.3,1294.0 2772.3,1291.7 2782.2,1294.2" fill="none" stroke="#000" stroke-width="7.4" stroke-linejoin="round" stroke-linecap="round"/>
<polyline points="215.7,1369.6 225.7,1380.1 235.6,1380.8 245.6,1387.8 255.5,1394.1 265.5,1399.8 275.4,1408.3 285.4,1404.5 295.3,1408.4 305.3,1408.1 315.2,1402.5 325.2,1391.5 335.1,1383.2 345.1,1383.2 355.0,1378.2 364.9,1373.1 374.9,1372.8 384.8,1369.0 394.8,1368.1 404.7,1368.8 414.7,1361.8 424.6,1367.8 434.6,1375.4 444.5,1379.3 454.5,1382.0 464.4,1381.8 474.4,1386.2 484.3,1381.5 494.3,1367.3 504.2,1360.8 514.2,1357.0 524.1,1349.4 534.1,1342.6 544.0,1340.9 554.0,1338.5 563.9,1333.8 573.8,1327.0 583.8,1330.0 593.7,1333.8 603.7,1331.6 613.6,1333.5 623.6,1331.2 633.5,1339.0 643.5,1336.4 653.4,1333.8 663.4,1330.8 673.3,1335.3 683.3,1335.3 693.2,1331.7 703.2,1328.7 713.1,1320.9 723.1,1321.1 733.0,1319.4 743.0,1328.7 752.9,1322.6 762.9,1327.8 772.8,1332.4 782.7,1330.8 792.7,1324.3 802.6,1321.7 812.6,1330.3 822.5,1328.3 832.5,1328.2 842.4,1330.1 852.4,1333.1 862.3,1335.6 872.3,1333.3 882.2,1336.9 892.2,1339.0 902.1,1344.6 912.1,1343.1 922.0,1343.6 932.0,1343.0 941.9,1340.2 951.9,1346.3 961.8,1347.5 971.8,1350.5 981.7,1347.8 991.6,1351.2 1001.6,1354.6 1011.5,1356.8 1021.5,1360.7 1031.4,1366.2 1041.4,1378.1 1051.3,1385.4 1061.3,1392.9 1071.2,1397.3 1081.2,1403.1 1091.1,1415.6 1101.1,1421.9 1111.0,1439.7 1121.0,1451.2 1130.9,1469.6 1140.9,1484.8 1150.8,1499.8 1160.8,1512.4 1170.7,1503.5 1180.6,1505.6 1190.6,1492.6 1200.5,1472.7 1210.5,1450.3 1220.4,1429.5 1230.4,1414.5 1240.3,1398.4 1250.3,1387.3 1260.2,1386.3 1270.2,1373.7 1280.1,1361.6 1290.1,1346.1 1300.0,1349.5 1310.0,1351.6 1319.9,1347.1 1329.9,1354.3 1339.8,1352.1 1349.8,1364.6 1359.7,1352.9 1369.7,1349.6 1379.6,1342.9 1389.5,1333.3 1399.5,1332.6 1409.4,1333.9 1419.4,1332.3 1429.3,1328.6 1439.3,1331.1 1449.2,1333.2 1459.2,1335.8 1469.1,1335.0 1479.1,1332.9 1489.0,1326.8 1499.0,1324.0 1508.9,1321.5 1518.9,1326.8 1528.8,1326.5 1538.8,1333.5 1548.7,1337.6 1558.7,1340.0 1568.6,1342.9 1578.6,1340.7 1588.5,1339.5 1598.4,1330.5 1608.4,1331.7 1618.3,1327.0 1628.3,1329.7 1638.2,1329.0 1648.2,1326.3 1658.1,1332.8 1668.1,1333.1 1678.0,1334.4 1688.0,1331.9 1697.9,1331.3 1707.9,1330.1 1717.8,1327.3 1727.8,1325.4 1737.7,1328.4 1747.7,1327.0 1757.6,1323.3 1767.6,1324.0 1777.5,1321.0 1787.5,1318.4 1797.4,1317.4 1807.3,1315.7 1817.3,1319.2 1827.2,1317.2 1837.2,1315.5 1847.1,1318.3 1857.1,1315.8 1867.0,1324.7 1877.0,1321.7 1886.9,1321.2 1896.9,1328.3 1906.8,1324.2 1916.8,1328.4 1926.7,1323.6 1936.7,1322.1 1946.6,1323.8 1956.6,1318.5 1966.5,1324.2 1976.5,1321.7 1986.4,1319.5 1996.3,1323.6 2006.3,1331.7 2016.2,1336.6 2026.2,1328.8 2036.1,1331.4 2046.1,1328.9 2056.0,1332.3 2066.0,1327.4 2075.9,1323.8 2085.9,1329.8 2095.8,1328.1 2105.8,1334.7 2115.7,1331.5 2125.7,1330.7 2135.6,1334.3 2145.6,1335.0 2155.5,1334.6 2165.5,1332.4 2175.4,1332.1 2185.4,1331.0 2195.3,1331.5 2205.2,1329.2 2215.2,1325.5 2225.1,1327.5 2235.1,1329.0 2245.0,1324.4 2255.0,1323.1 2264.9,1328.3 2274.9,1329.2 2284.8,1329.0 2294.8,1323.7 2304.7,1334.6 2314.7,1333.8 2324.6,1326.6 2334.6,1336.2 2344.5,1336.0 2354.5,1337.9 2364.4,1332.8 2374.4,1333.9 2384.3,1340.8 2394.3,1330.9 2404.2,1327.2 2414.1,1328.4 2424.1,1328.1 2434.0,1331.4 2444.0,1324.4 2453.9,1326.4 2463.9,1655.6 2473.8,1947.8 2483.8,1845.8 2493.7,1773.3 2503.7,1748.6 2513.6,1721.5 2523.6,1373.2 2533.5,1062.6 2543.5,1164.9 2553.4,1241.5 2563.4,1260.3 2573.3,1279.0 2583.3,1286.3 2593.2,1296.5 2603.2,1285.3 2613.1,1257.6 2623.0,1249.9 2633.0,1246.9 2642.9,1248.7 2652.9,1239.6 2662.8,1237.2 2672.8,1247.2 2682.7,1262.0 2692.7,1256.9 2702.6,1262.5 2712.6,1273.6 2722.5,1276.5 2732.5,1277.7 2742.4,1270.6 2752.4,1286.7 2762.3,1285.4 2772.3,1288.0 2782.2,1294.8" fill="none" stroke="#7660c6" stroke-width="7.4" stroke-linejoin="round" stroke-linecap="round"/>
<g style="will-change:opacity" opacity="0.99">
<text x="2969.3" y="407.4" font-size="41.5" font-weight="bold" textLength="106" lengthAdjust="spacingAndGlyphs">5,000</text>
<text x="2969.3" y="602.067" font-size="41.5" font-weight="bold" textLength="106" lengthAdjust="spacingAndGlyphs">4,000</text>
<text x="2969.3" y="796.733" font-size="41.5" font-weight="bold" textLength="106" lengthAdjust="spacingAndGlyphs">3,000</text>
<text x="2969.3" y="991.4" font-size="41.5" font-weight="bold" textLength="106" lengthAdjust="spacingAndGlyphs">2,000</text>
<text x="2969.3" y="1186.07" font-size="41.5" font-weight="bold" textLength="106" lengthAdjust="spacingAndGlyphs">1,000</text>
<text x="2969.3" y="1380.73" font-size="41.5" font-weight="bold" textLength="23.5" lengthAdjust="spacingAndGlyphs">0</text>
<text x="2969.3" y="1575.4" font-size="41.5" font-weight="bold" textLength="120.5" lengthAdjust="spacingAndGlyphs">-1,000</text>
<text x="2969.3" y="1770.07" font-size="41.5" font-weight="bold" textLength="120.5" lengthAdjust="spacingAndGlyphs">-2,000</text>
<text x="2969.3" y="1964.73" font-size="41.5" font-weight="bold" textLength="120.5" lengthAdjust="spacingAndGlyphs">-3,000</text>
<text x="2969.3" y="2159.4" font-size="41.5" font-weight="bold" textLength="120.5" lengthAdjust="spacingAndGlyphs">-4,000</text>
<text x="10.3" y="2219.8" font-size="43.5" textLength="93.2" lengthAdjust="spacingAndGlyphs">2000</text>
<text x="249.042" y="2219.8" font-size="43.5" textLength="93.2" lengthAdjust="spacingAndGlyphs">2002</text>
<text x="487.783" y="2219.8" font-size="43.5" textLength="93.2" lengthAdjust="spacingAndGlyphs">2004</text>
<text x="726.525" y="2219.8" font-size="43.5" textLength="93.2" lengthAdjust="spacingAndGlyphs">2006</text>
<text x="965.267" y="2219.8" font-size="43.5" textLength="93.2" lengthAdjust="spacingAndGlyphs">2008</text>
<text x="1204.01" y="2219.8" font-size="43.5" textLength="93.2" lengthAdjust="spacingAndGlyphs">2010</text>
<text x="1442.75" y="2219.8" font-size="43.5" textLength="93.2" lengthAdjust="spacingAndGlyphs">2012</text>
<text x="1681.49" y="2219.8" font-size="43.5" textLength="93.2" lengthAdjust="spacingAndGlyphs">2014</text>
<text x="1920.23" y="2219.8" font-size="43.5" textLength="93.2" lengthAdjust="spacingAndGlyphs">2016</text>
<text x="2158.98" y="2219.8" font-size="43.5" textLength="93.2" lengthAdjust="spacingAndGlyphs">2018</text>
<text x="2397.72" y="2219.8" font-size="43.5" textLength="93.2" lengthAdjust="spacingAndGlyphs">2020</text>
<text x="2636.46" y="2219.8" font-size="43.5" textLength="93.2" lengthAdjust="spacingAndGlyphs">2022</text>
<text x="2875.2" y="2219.8" font-size="43.5" textLength="93.2" lengthAdjust="spacingAndGlyphs">2024</text>
<text x="2881" y="343.5" font-size="42.5" font-weight="bold" textLength="207.5" lengthAdjust="spacingAndGlyphs">Thousands</text>
<text x="1011.6" y="114.7" font-size="73" font-weight="bold" textLength="1096.5" lengthAdjust="spacingAndGlyphs">Nonfarm Jobs versus JOLTS Data</text>
<text x="971.5" y="197.5" font-size="54.6" font-style="italic" textLength="1177" lengthAdjust="spacingAndGlyphs">Monthly Data and 6-Month Moving Averages</text>
<text x="2568.8" y="65" font-size="43" font-weight="bold" textLength="517" lengthAdjust="spacingAndGlyphs">advisorperspectives.com</text>
<text x="2513.8" y="126.5" font-size="42" font-weight="bold" textLength="571.5" lengthAdjust="spacingAndGlyphs">Data through October 2023</text>
<rect x="785.4" y="281.3" width="29.6" height="29.2" fill="#d2d2d2"/>
<text x="829.3" y="310.5" font-size="46.8" font-weight="bold" fill="#808080" textLength="247.5" lengthAdjust="spacingAndGlyphs">Recessions</text>
<circle cx="1180.1" cy="295.4" r="9.3" fill="#808080"/>
<text x="1209" y="310.5" font-size="46.8" font-weight="bold" textLength="316" lengthAdjust="spacingAndGlyphs">Nonfarm Jobs</text>
<circle cx="1628.1" cy="294.8" r="9" fill="#bab0e2"/>
<text x="1655.5" y="310" font-size="46.8" font-weight="bold" fill="#7560c4" textLength="698" lengthAdjust="spacingAndGlyphs">JOLTS Hires minus Separations</text>
<text x="34.5" y="67.9" font-size="47.2" font-weight="bold" textLength="34.6" lengthAdjust="spacingAndGlyphs">V</text>
<polygon points="32,31 59.8,31 46.7,67.9 46.7,70 32,70" fill="#fff"/>
<g fill="#000"><polygon points="34.75,34.15 36.7,34.15 47.67,65.15 46.7,67.9"/><polygon points="39.25,34.15 41.1,34.15 49.88,58.95 48.95,61.55"/><polygon points="43,34.15 44.9,34.15 51.79,53.6 50.82,56.25"/></g>
<text x="63.6" y="67.9" font-size="47.2" font-weight="bold" textLength="83" lengthAdjust="spacingAndGlyphs">etta</text>
<text x="146.9" y="67.9" font-size="47.2" font-weight="bold" textLength="34.6" lengthAdjust="spacingAndGlyphs">Fi</text>
<text x="213.6" y="67.5" font-size="31.6" textLength="305" lengthAdjust="spacingAndGlyphs">Advisor Perspectives</text>
</g>
</svg></body></html>
